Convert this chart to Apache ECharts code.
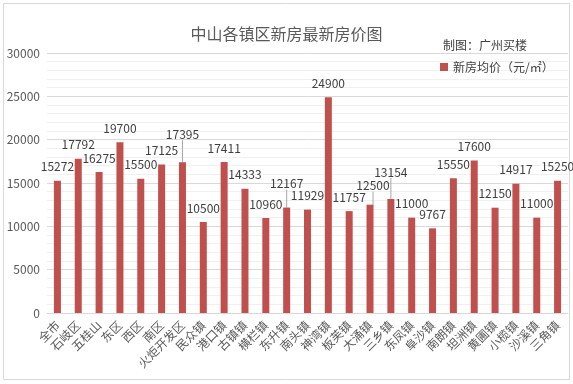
<!DOCTYPE html>
<html><head><meta charset="utf-8">
<script src="https://cdn.jsdelivr.net/npm/echarts@6/dist/echarts.min.js"></script>
<style>html,body{margin:0;padding:0;background:#fff}#c{width:573px;height:384px}</style>
</head><body><div id="c"></div>
<script>
var categories = ['全市','石岐区','五桂山','东区','西区','南区','火炬开发区','民众镇','港口镇','古镇镇','横栏镇','东升镇','南头镇','神湾镇','板芙镇','大涌镇','三乡镇','东凤镇','阜沙镇','南朗镇','坦洲镇','黄圃镇','小榄镇','沙溪镇','三角镇'];
var prices = [15272,17792,16275,19700,15500,17125,17395,10500,17411,14333,10960,12167,11929,24900,11757,12500,13154,11000,9767,15550,17600,12150,14917,11000,15250];
var yTicks = [0,5000,10000,15000,20000,25000,30000];
var labelShift = {6:[0,-14],11:[0,-10],15:[3,-5],16:[0,-13]};
var font = '"Noto Sans CJK SC", "Noto Sans", sans-serif';
var barData = prices.map(function(v,i){
  return labelShift[i] ? {value:v,labelLine:{show:true}} : {value:v};
});
var chart = echarts.init(document.getElementById('c'));
chart.setOption({
  animation:false,
  textStyle:{fontFamily:font},
  graphic:[{type:'rect',shape:{x:3.5,y:3.5,width:566,height:376},style:{fill:'none',stroke:'#d9d9d9',lineWidth:1}}],
  title:[{text:'中山各镇区新房最新房价图',left:'center',top:21,textStyle:{fontSize:16,fontWeight:'normal',color:'#595959',fontFamily:font}},
         {text:'制图：广州买楼',left:438,top:34,textStyle:{fontSize:12,fontWeight:'normal',color:'#404040',fontFamily:font}}],
  legend:{left:435,top:56,itemWidth:8,itemHeight:8,icon:'rect',itemGap:4,textStyle:{fontSize:12,color:'#404040',fontFamily:font},data:['新房均价（元/㎡）']},
  grid:{left:47,right:5,top:53,bottom:71},
  xAxis:{type:'category',data:categories,axisTick:{show:false},axisLine:{lineStyle:{color:'#d9d9d9'}},
    axisLabel:{interval:0,rotate:45,fontSize:12,color:'#595959',margin:10,fontFamily:font}},
  yAxis:{type:'value',min:yTicks[0],max:yTicks[yTicks.length-1],interval:5000,
    axisLabel:{fontSize:12,color:'#595959',margin:7,fontFamily:font,formatter:function(v){return String(v);}},
    splitLine:{lineStyle:{color:'#d9d9d9'}},
    minorTick:{show:false,splitNumber:5},
    minorSplitLine:{show:true,lineStyle:{color:'#f0f0f0'}}},
  series:[{name:'新房均价（元/㎡）',type:'bar',data:barData,barWidth:7,
    itemStyle:{color:'#c0504d'},
    label:{show:true,position:'top',distance:8,fontSize:12,color:'#404040',fontFamily:font},
    labelLine:{show:false,lineStyle:{color:'#a6a6a6',width:1}},
    labelLayout:function(p){var s=labelShift[p.dataIndex];return s?{dx:s[0],dy:s[1]}:{};}
  }]
});
</script></body></html>
